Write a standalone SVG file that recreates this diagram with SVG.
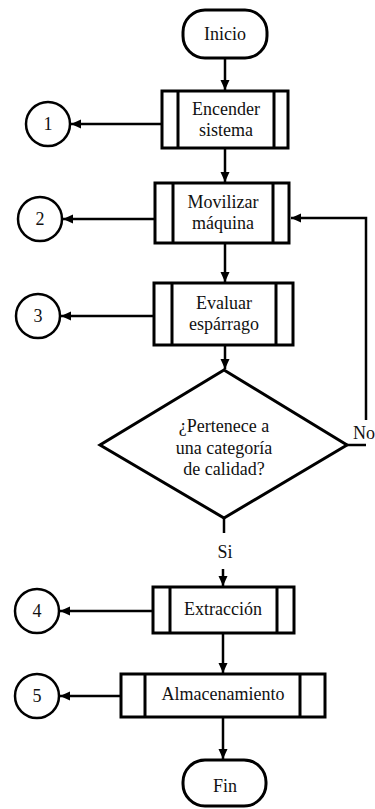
<svg xmlns="http://www.w3.org/2000/svg" width="375" height="809" viewBox="0 0 375 809">
<style>
.shape{fill:#fff;stroke:#000;stroke-width:3}
.thin{fill:none;stroke:#000;stroke-width:2.5}
.line{fill:none;stroke:#000;stroke-width:2.5}
text{font-family:'Liberation Serif','DejaVu Serif',serif;font-size:18px;fill:#111;text-anchor:middle}
</style>
<defs>
<marker id="ah" markerUnits="userSpaceOnUse" markerWidth="11" markerHeight="10" refX="10" refY="5" orient="auto">
<path d="M0,0.5 L10,5 L0,9.5 z" fill="#000"/>
</marker>
</defs>
<rect width="375" height="809" fill="#fff"/>
<g id="connectors" font-family="Liberation Serif, DejaVu Serif, serif">
<path class="line" d="M225,58 V90" marker-end="url(#ah)"/>
<path class="line" d="M225,148 V182" marker-end="url(#ah)"/>
<path class="line" d="M225,243 V282" marker-end="url(#ah)"/>
<path class="line" d="M225,345 V369" marker-end="url(#ah)"/>
<path class="line" d="M224,518 V533"/>
<path class="line" d="M223,569 V586" marker-end="url(#ah)"/>
<path class="line" d="M223,633 V673" marker-end="url(#ah)"/>
<path class="line" d="M223,717 V759" marker-end="url(#ah)"/>
<path class="line" d="M162,124 H71" marker-end="url(#ah)"/>
<path class="line" d="M155,219 H63" marker-end="url(#ah)"/>
<path class="line" d="M154,316 H61" marker-end="url(#ah)"/>
<path class="line" d="M153,611 H60" marker-end="url(#ah)"/>
<path class="line" d="M121,696 H60" marker-end="url(#ah)"/>
<path class="line" d="M347,445 H366"/>
<path class="line" d="M366,420 V218 H291" marker-end="url(#ah)"/>
<text x="364" y="439">No</text>
<text x="225" y="558">Si</text>
</g>
<g id="inicio">
<rect class="shape" x="183" y="10" width="84" height="48" rx="22"/>
<text x="225" y="40">Inicio</text>
</g>
<g id="encender">
<rect class="shape" x="162" y="91" width="126" height="57"/>
<path class="shape" d="M178,91 V148 M274,91 V148"/>
<text x="226" y="115">Encender</text>
<text x="226" y="136">sistema</text>
</g>
<g id="movilizar">
<rect class="shape" x="155" y="183" width="134" height="60"/>
<path class="shape" d="M173,183 V243 M273,183 V243"/>
<text x="223" y="208">Movilizar</text>
<text x="223" y="229">máquina</text>
</g>
<g id="evaluar">
<rect class="shape" x="154" y="283" width="139" height="62"/>
<path class="shape" d="M172,283 V345 M276,283 V345"/>
<text x="224" y="309">Evaluar</text>
<text x="224" y="330">espárrago</text>
</g>
<g id="decision">
<polygon class="shape" points="224,370 347,445 224,518 100,445"/>
<text x="224" y="432">¿Pertenece a</text>
<text x="224" y="454">una categoría</text>
<text x="224" y="475">de calidad?</text>
</g>
<g id="extraccion">
<rect class="shape" x="153" y="587" width="141" height="46"/>
<path class="shape" d="M170,587 V633 M277,587 V633"/>
<text x="223" y="615">Extracción</text>
</g>
<g id="almacenamiento">
<rect class="shape" x="121" y="674" width="204" height="43"/>
<path class="shape" d="M145,674 V717 M300,674 V717"/>
<text x="223" y="700">Almacenamiento</text>
</g>
<g id="fin">
<rect class="shape" x="183" y="760" width="83" height="46" rx="22"/>
<text x="225" y="792">Fin</text>
</g>
<g id="c1"><circle class="thin" cx="48" cy="124" r="22"/><text x="48" y="130">1</text></g>
<g id="c2"><circle class="thin" cx="40" cy="219" r="22"/><text x="40" y="225">2</text></g>
<g id="c3"><circle class="thin" cx="38" cy="316" r="22"/><text x="38" y="322">3</text></g>
<g id="c4"><circle class="thin" cx="37" cy="611" r="22"/><text x="37" y="617">4</text></g>
<g id="c5"><circle class="thin" cx="37" cy="696" r="22"/><text x="37" y="702">5</text></g>
</svg>
